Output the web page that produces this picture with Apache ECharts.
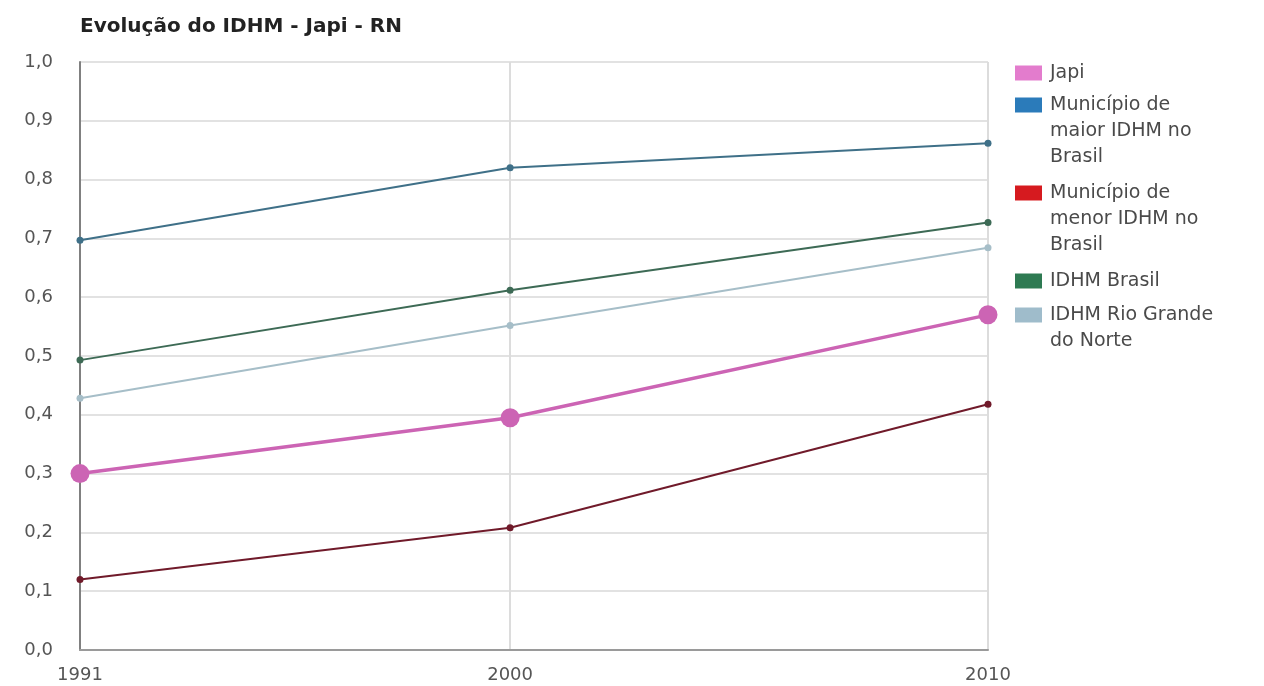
<!DOCTYPE html>
<html>
<head>
<meta charset="utf-8">
<title>Evolução do IDHM - Japi - RN</title>
<script src="https://cdn.jsdelivr.net/npm/echarts@6/dist/echarts.min.js"></script>
<style>
  html, body { margin: 0; padding: 0; background: #ffffff; }
  #chart { width: 1264px; height: 686px; }
</style>
</head>
<body>
<div id="chart"></div>
<script>
// Census years (x positions are proportional to the year)
const years = [1991, 2000, 2010];

// IDHM values per series
const japi   = [0.300, 0.395, 0.570];
const maior  = [0.697, 0.820, 0.862];
const menor  = [0.120, 0.208, 0.418];
const brasil = [0.493, 0.612, 0.727];
const rn     = [0.428, 0.552, 0.684];

// Series names and the wrapped text shown in the legend
const seriesNames = [
  'Japi',
  'Município de maior IDHM no Brasil',
  'Município de menor IDHM no Brasil',
  'IDHM Brasil',
  'IDHM Rio Grande do Norte'
];
const legendLines = [
  ['Japi'],
  ['Município de', 'maior IDHM no', 'Brasil'],
  ['Município de', 'menor IDHM no', 'Brasil'],
  ['IDHM Brasil'],
  ['IDHM Rio Grande', 'do Norte']
];

// Y-axis tick labels
const yTicks = ['0,0', '0,1', '0,2', '0,3', '0,4', '0,5', '0,6', '0,7', '0,8', '0,9', '1,0'];

const FONT = 'DejaVu Sans, Liberation Sans, Arial, sans-serif';

// Styling per series: line colour, legend swatch colour, widths and marker size
const styles = [
  { line: '#cc64b4', swatch: '#e37ccd', width: 3.5, symbol: 19 },
  { line: '#3f7088', swatch: '#2b7bba', width: 2,   symbol: 7 },
  { line: '#701a2a', swatch: '#d61a1f', width: 2,   symbol: 7 },
  { line: '#3d6a55', swatch: '#2e7a52', width: 2,   symbol: 7 },
  { line: '#a6bec8', swatch: '#9fbccb', width: 2,   symbol: 7 }
];
const values = [japi, maior, menor, brasil, rn];

// Centre of the first text line of each legend entry
const legendFirstLine = [73, 105, 193, 281, 315];
const LINE_H = 26;

const series = seriesNames.map((name, k) => ({
  name: name,
  type: 'line',
  data: years.map((y, i) => [y, values[k][i]]),
  symbol: 'circle',
  symbolSize: styles[k].symbol,
  showSymbol: true,
  lineStyle: { color: styles[k].line, width: styles[k].width },
  itemStyle: { color: styles[k].line },
  emphasis: { disabled: true },
  z: k === 0 ? 5 : 3
}));

// One legend block per series. The text is centred on the swatch, so blank
// lines are prepended to bring the first text line level with the swatch.
const legends = seriesNames.map((name, k) => {
  const n = legendLines[k].length;
  return {
    data: [name],
    orient: 'vertical',
    left: 1015,
    top: legendFirstLine[k] - (n - 1) * LINE_H - LINE_H / 2,
    padding: 0,
    icon: 'rect',
    itemWidth: 27,
    itemHeight: 15,
    selectedMode: false,
    itemStyle: { color: styles[k].swatch, borderWidth: 0 },
    formatter: () => '\n'.repeat(n - 1) + legendLines[k].join('\n'),
    textStyle: {
      fontFamily: FONT,
      fontSize: 19,
      color: '#4a4a4a',
      lineHeight: LINE_H,
      padding: [0, 0, 0, 3]
    }
  };
});

const chart = echarts.init(document.getElementById('chart'), null, { renderer: 'canvas' });
chart.setOption({
  backgroundColor: '#ffffff',
  animation: false,
  title: {
    text: 'Evolução do IDHM - Japi - RN',
    left: 80,
    top: 17,
    padding: 0,
    textStyle: { fontFamily: FONT, fontSize: 20, fontWeight: 'bold', color: '#222222' }
  },
  legend: legends,
  grid: { left: 80, right: 276, top: 62, bottom: 36 },
  xAxis: {
    type: 'value',
    min: years[0],
    max: years[years.length - 1],
    axisLine: { show: true, lineStyle: { color: '#9a9a9a', width: 2 } },
    axisTick: { show: false, customValues: years },
    axisLabel: {
      customValues: years,
      margin: 16,
      fontFamily: FONT,
      fontSize: 18,
      color: '#555555',
      formatter: v => String(v)
    },
    splitLine: { show: true, lineStyle: { color: '#dcdcdc', width: 2 } }
  },
  yAxis: {
    type: 'value',
    min: 0,
    max: 1,
    interval: 0.1,
    axisLine: { show: true, lineStyle: { color: '#808080', width: 2 } },
    axisTick: { show: false },
    axisLabel: {
      margin: 27,
      fontFamily: FONT,
      fontSize: 18,
      color: '#555555',
      formatter: v => yTicks[Math.round(v * 10)]
    },
    splitLine: { show: true, lineStyle: { color: '#e2e2e2', width: 2 } }
  },
  series: series
});
</script>
</body>
</html>
